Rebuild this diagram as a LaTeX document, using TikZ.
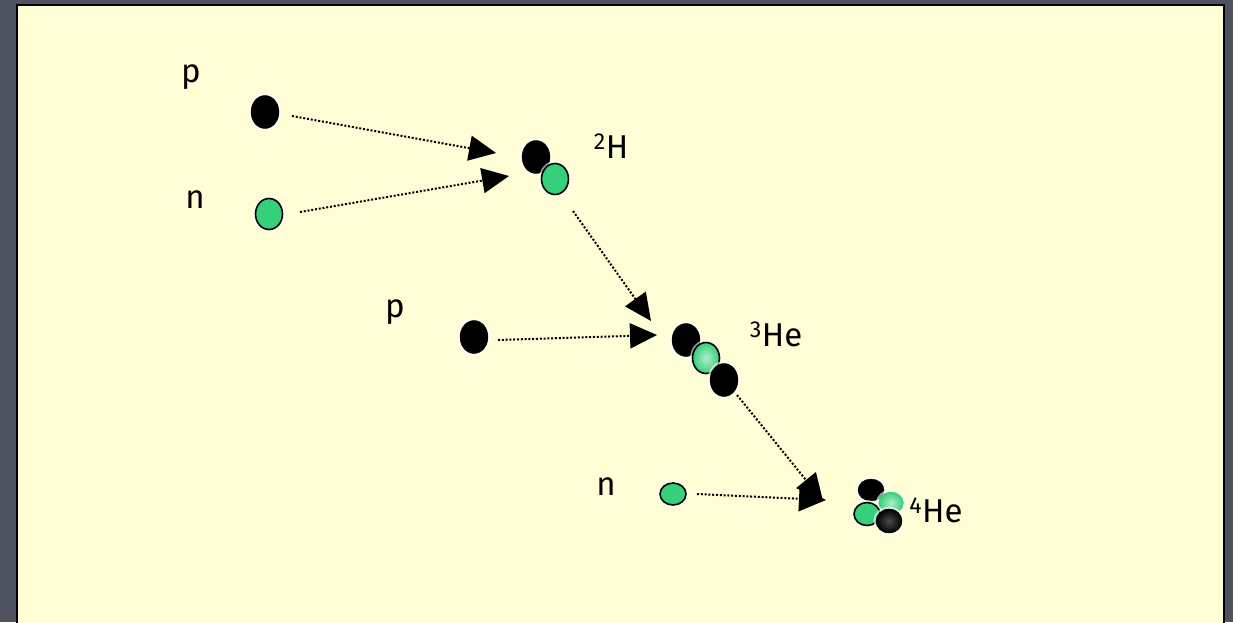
\documentclass[tikz,border=0pt]{standalone}
\usepackage{fontspec}
\setmainfont{Fira Sans}
\usetikzlibrary{arrows.meta,shapes.geometric}
\definecolor{slate}{HTML}{4F535F}
\definecolor{panel}{HTML}{FFFDD6}
\definecolor{nucgreen}{HTML}{36D07A}
\begin{document}
\begin{tikzpicture}[x=1pt,y=-1pt,
  halo/.style={preaction={draw=white,line width=5pt,opacity=0.6}},
  proton/.style={ellipse,fill=black,draw=black,inner sep=0pt,minimum width=28pt,minimum height=33pt,halo},
  neutron/.style={ellipse,fill=nucgreen,draw=black,line width=1.6pt,inner sep=0pt,minimum width=27pt,minimum height=31pt,halo},
  lbl/.style={font=\fontsize{33}{38}\selectfont,inner sep=0pt},
  flow/.style={line width=2pt,dash pattern=on 2pt off 1.8pt,-{Triangle[length=27pt,width=25pt]}}]
\useasboundingbox (0,0) rectangle (1233,622);
\fill[slate] (0,0) rectangle (1233,622);
\fill[panel,draw=black,line width=2pt] (17,5) rectangle (1224,640);

% labels
\node[lbl] (lp1) at (191,77) {p};
\node[lbl] (ln1) at (195,200) {n};
\node[lbl] (lp2) at (395,312) {p};
\node[lbl] (ln2) at (606,487) {n};
\node[lbl] (lH2) at (611,146) {\textsuperscript{2}H};
\node[lbl] (lHe3) at (776,334) {\textsuperscript{3}He};

% particles
\node[proton] (p1) at (265,112) {};
\node[neutron] (n1) at (269,214) {};
\node[proton] (d1) at (536,157) {};
\node[neutron] (d2) at (555,179) {};
\node[proton] (p2) at (474,337) {};
\node[proton] (h1) at (686,340) {};
\node[neutron,inner color=nucgreen!40,outer color=nucgreen] (h2) at (706,358) {};
\node[proton] (h3) at (724,380) {};
\node[neutron,minimum width=26pt,minimum height=22pt] (n2) at (673,494) {};
\node[proton,minimum width=26pt,minimum height=22pt] (a1) at (871,490) {};
\node[neutron,draw=none,inner color=nucgreen!40,outer color=nucgreen,minimum width=25pt,minimum height=22pt] (a2) at (891,503) {};
\node[neutron,minimum width=26pt,minimum height=23pt] (a3) at (867,514) {};
\node[proton,inner color=black!70,outer color=black,minimum width=26pt,minimum height=24pt] (a4) at (889,521) {};
\node[lbl] (lHe4) at (936,510) {\textsuperscript{4}He};

% arrow ends
\coordinate (s1) at (292,116); \coordinate (t1) at (496,153);
\coordinate (s2) at (300,212); \coordinate (t2) at (509,176);
\coordinate (s3) at (573,211); \coordinate (t3) at (651,321);
\coordinate (s4) at (498,340); \coordinate (t4) at (657,335);
\coordinate (s5) at (737,395); \coordinate (t5) at (823,501);
\coordinate (s6) at (697,494); \coordinate (t6) at (826,500);
\draw[flow] (s1) -- (t1);
\draw[flow] (s2) -- (t2);
\draw[flow] (s3) -- (t3);
\draw[flow] (s4) -- (t4);
\draw[flow] (s5) -- (t5);
\draw[flow] (s6) -- (t6);
\end{tikzpicture}
\end{document}
